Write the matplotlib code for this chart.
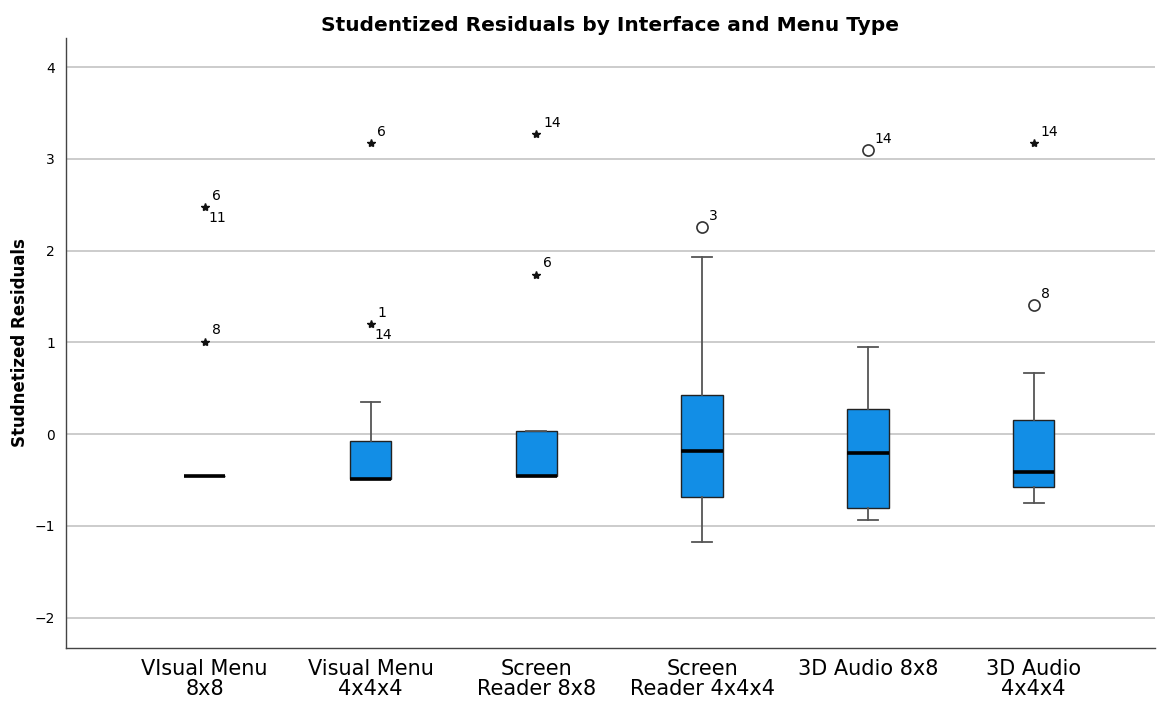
import matplotlib
matplotlib.use("Agg")
import matplotlib.pyplot as plt

categories = ["VIsual Menu\n8x8", "Visual Menu\n4x4x4", "Screen\nReader 8x8",
              "Screen\nReader 4x4x4", "3D Audio 8x8", "3D Audio\n4x4x4"]
q1 = [-0.46, -0.49, -0.46, -0.68, -0.80, -0.58]
med = [-0.46, -0.49, -0.46, -0.18, -0.20, -0.41]
q3 = [-0.46, -0.07, 0.04, 0.43, 0.28, 0.16]
whislo = [-0.46, -0.49, -0.46, -1.18, -0.93, -0.75]
whishi = [-0.46, 0.35, 0.04, 1.93, 0.95, 0.67]
# extreme outliers (stars): (group index, value, labels)
extremes = [(0, 2.48, ["6", "11"]), (0, 1.01, ["8"]),
            (1, 3.17, ["6"]), (1, 1.20, ["1", "14"]),
            (2, 3.27, ["14"]), (2, 1.74, ["6"]),
            (5, 3.17, ["14"])]
# mild outliers (circles)
milds = [(3, 2.26, ["3"]), (4, 3.10, ["14"]), (5, 1.41, ["8"])]

fig = plt.figure(figsize=(11.57, 7.02), dpi=100)
ax = fig.add_axes([0.057, 0.077, 0.941, 0.869])

positions = list(range(1, len(categories) + 1))
stats = []
for i in range(len(categories)):
    stats.append(dict(med=med[i], q1=q1[i], q3=q3[i], whislo=whislo[i],
                      whishi=whishi[i], fliers=[], label=categories[i]))

ax.yaxis.grid(True, color="#c8c8c8", linewidth=1.3, zorder=0)
ax.set_axisbelow(True)

ax.bxp(stats, positions=positions, widths=0.25, patch_artist=True,
       showfliers=False, capwidths=0.12,
       boxprops=dict(facecolor="#128EE6", edgecolor="#222222", linewidth=1.0),
       medianprops=dict(color="black", linewidth=2.6),
       whiskerprops=dict(color="#555555", linewidth=1.3),
       capprops=dict(color="#555555", linewidth=1.3), zorder=3)

for g, v, labs in extremes:
    ax.plot(positions[g], v, marker="*", color="#111111", markersize=6,
            linestyle="none", zorder=4)
for g, v, labs in milds:
    ax.plot(positions[g], v, marker="o", markerfacecolor="white",
            markeredgecolor="#333333", markersize=8, markeredgewidth=1.2,
            linestyle="none", zorder=4)

for g, v, labs in extremes + milds:
    ax.annotate(labs[0], (positions[g], v), xytext=(5, 3),
                textcoords="offset points", fontsize=10, ha="left", va="bottom")
    if len(labs) > 1:
        ax.annotate(labs[1], (positions[g], v), xytext=(3, -3),
                    textcoords="offset points", fontsize=10, ha="left", va="top")

ax.set_xlim(0.163, 6.73)
ax.set_ylim(-2.33, 4.32)
ax.set_yticks([-2, -1, 0, 1, 2, 3, 4])
ax.set_yticklabels(["\u22122", "\u22121", "0", "1", "2", "3", "4"])
ax.set_xticks(positions)
ax.set_xticklabels(categories, fontsize=15, linespacing=1.0)
ax.tick_params(axis="y", length=0, labelsize=10, pad=8)
ax.tick_params(axis="x", length=0, pad=8)

for s in ["top", "right"]:
    ax.spines[s].set_visible(False)
for s in ["left", "bottom"]:
    ax.spines[s].set_color("#444444")
    ax.spines[s].set_linewidth(1.0)

ax.set_ylabel("Studnetized Residuals", fontsize=12, fontweight="bold",
              labelpad=4)
ax.set_title("Studentized Residuals by Interface and Menu Type", fontsize=14.5,
             fontweight="bold", pad=5)

fig.savefig("out.png", dpi=100)
